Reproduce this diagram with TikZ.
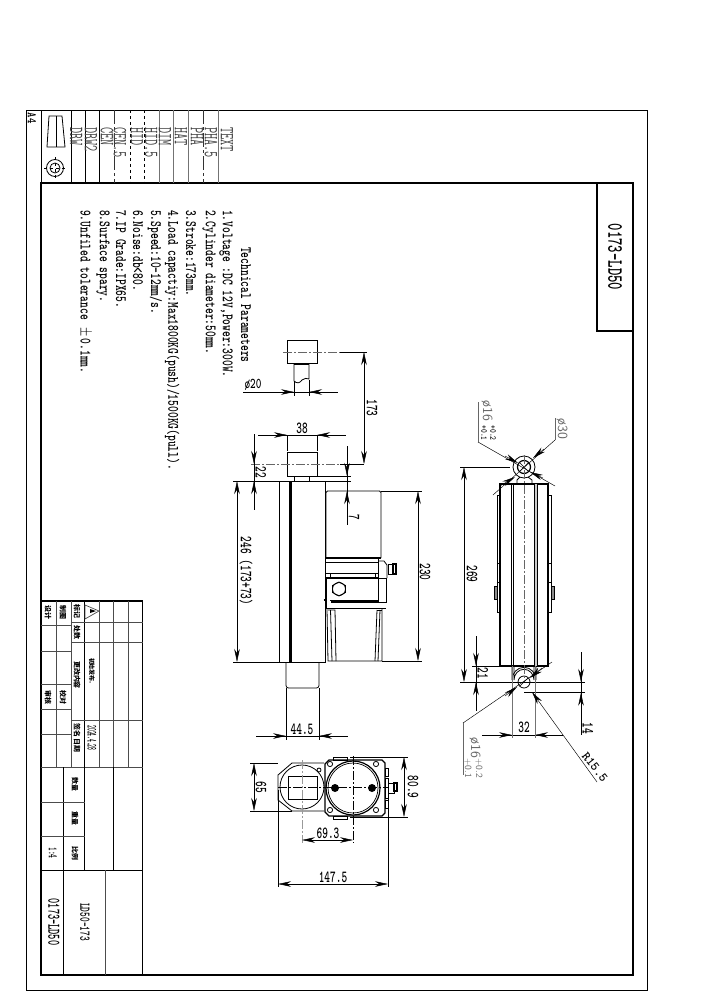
\documentclass[tikz,border=0pt]{standalone}
\usepackage{fontspec}
\usetikzlibrary{arrows.meta}
\newfontfamily\cjk{Noto Sans CJK SC}

\tikzset{
    frameline/.style={black,line width=1.3bp},
    stripline/.style={black!55,line width=0.9bp},
    gridline/.style={black!70,line width=0.7bp},
    partline/.style={black,line width=0.8bp},
    heavyline/.style={black,line width=1.2bp},
    thinline/.style={black,line width=0.45bp},
    centerline/.style={black!60,line width=0.6bp,dash pattern=on 9bp off 2bp on 2bp off 2bp},
    dimline/.style={black,line width=0.45bp,>={Stealth[length=13bp,width=5.5bp]}},
    greyleader/.style={black!60,line width=0.5bp},
    notetext/.style={font=\fontsize{16}{16}\ttfamily\bfseries,rotate=-90,xscale=.69,anchor=west,inner sep=0pt},
    striptext/.style={font=\fontsize{20}{20}\ttfamily,rotate=-90,xscale=.6,anchor=west,inner sep=0pt,black!75},
    dimtext/.style={font=\fontsize{17}{17}\ttfamily\bfseries,xscale=.64,inner sep=0pt},
    dimtextv/.style={font=\fontsize{17}{17}\ttfamily\bfseries,rotate=-90,xscale=.64,inner sep=0pt},
    greytext/.style={font=\fontsize{14}{14}\sffamily,rotate=-90,inner sep=0pt,black!60},
    smallgrey/.style={font=\fontsize{9.5}{9.5}\sffamily,rotate=-90,inner sep=0pt,black!60},
    cjktext/.style={font=\fontsize{7}{7}\cjk\bfseries,rotate=-90,inner sep=0pt},
}

\begin{document}
\begin{tikzpicture}[x=1bp,y=-1bp]
    \useasboundingbox (0,0) rectangle (706,1000);

    % sheet frames
    \draw[thinline,line width=0.8bp] (26,110) rectangle (647,990);
    \draw[frameline] (41,183) rectangle (633,975);
    \draw[frameline] (597,183) rectangle (633,331);
    \draw[thinline,line width=0.8bp] (41,110) -- (41,183);
    \node[font=\fontsize{22}{22}\ttfamily\bfseries,rotate=-90,xscale=.64,inner sep=0pt] (title) at (615,257) {0173-LD50};

    % line type strip
    \foreach \x in {71,85,99} {\draw[thinline,line width=0.8bp] (\x,110) -- (\x,183);}
    \foreach \x in {159,173,188,218} {\draw[stripline] (\x,110) -- (\x,183);}
    \foreach \x in {130,144} {\draw[black,line width=0.8bp,dashed] (\x,110) -- (\x,183);}
    \foreach \x in {114,203} {\draw[black!80,line width=0.8bp,dash pattern=on 14bp off 3bp on 3bp off 3bp] (\x,110) -- (\x,183);}
    \foreach \x/\t in {227/TEXT,211/PHA.5,197/PHA,181/HAT,165/DIM,151/HID.5,137/HID,120/CEN.5,107/CEN,91/DRW2,76/DRW} {
        \node[striptext] at (\x,127) {\t};
    }
    \node[font=\fontsize{13}{13}\ttfamily\bfseries,rotate=-90,xscale=.8,inner sep=0pt] (sheet) at (32,118) {A4};
    \draw[thinline,line width=0.8bp] (49,116) -- (62,116) -- (65,147) -- (47,147) -- cycle;
    \draw[thinline] (56,116) -- (56,147);
    \draw[thinline,line width=0.8bp] (55,168) circle (8.5) (55,168) circle (5);
    \draw[thinline,dashed] (44,168) -- (66,168) (55,157) -- (55,179);

    % technical notes
    \node[notetext] (notehead) at (246,247) {Technical Parameters};
    \node[notetext] (note1) at (226,210) {1.Voltage :DC 12V,Power:300W.};
    \node[notetext] (note2) at (209,210) {2.Cylinder diameter:50mm.};
    \node[notetext] (note3) at (191,210) {3.Stroke:173mm.};
    \node[notetext] (note4) at (172,210) {4.Load capactiy:Max1800KG(push)/1500KG(pull).};
    \node[notetext] (note5) at (155,210) {5.Speed:10-12mm/s.};
    \node[notetext] (note6) at (138,210) {6.Noise:db<80.};
    \node[notetext] (note7) at (121,210) {7.IP Grade:IPX65.};
    \node[notetext] (note8) at (103,210) {8.Surface spary.};
    \node[notetext] (note9) at (85,210) {9.Unfiled tolerance $\,\pm\,$0.1mm.};

    % title block
    \draw[frameline] (41,601) -- (142.5,601) -- (142.5,975);
    \draw[gridline] (41,767) -- (142.5,767);
    \draw[thinline,line width=0.8bp] (41,870) -- (142.5,870);
    \foreach \x in {99,113.5,128} {\draw[gridline] (\x,601) -- (\x,767);}
    \draw[thinline,line width=0.8bp] (84.5,601) -- (84.5,870);
    \draw[thinline,line width=0.8bp] (113.5,767) -- (113.5,870);
    \draw[gridline] (71,601) -- (71,767);
    \draw[gridline] (56,601) -- (56,767);
    \draw[thinline,line width=0.8bp] (63.5,767) -- (63.5,975);
    \draw[gridline] (105,870) -- (105,975);
    \foreach \y in {622,642,720} {\draw[gridline] (71,\y) -- (142.5,\y);}
    \foreach \y in {625,651,684,709,734} {\draw[gridline] (41,\y) -- (71,\y);}
    \foreach \y in {802,836} {\draw[gridline] (41,\y) -- (84.5,\y);}
    \foreach \x/\y/\t in {77/611/标记,77/632/处数,77/675/更改内容,77/738/签名 日期,48/612/设计,63/612/制图,48/697/审核,63/697/校对,75/784/数量,75/818/重量,75/853/比例} {
        \node[cjktext] at (\x,\y) {\t};
    }
    \node[cjktext,font=\fontsize{6}{6}\cjk\bfseries] (change) at (92,671) {初始发布.};
    \node[font=\fontsize{14}{14}\ttfamily\bfseries,rotate=-90,xscale=.38,inner sep=0pt] (date) at (92,738) {2024.4.28};
    \node[font=\fontsize{13}{13}\ttfamily\bfseries,rotate=-90,xscale=.55,inner sep=0pt] (scale) at (53,853) {1:4};
    \draw[gridline] (85,605) -- (99,611) -- (85,619) -- cycle;
    \fill (90,609) -- (96,611) -- (90,613) -- cycle;
    \node[font=\fontsize{18}{18}\ttfamily\bfseries,rotate=-90,xscale=.55,inner sep=0pt] (drawno) at (54,922) {0173-LD50};
    \node[font=\fontsize{15}{15}\ttfamily\bfseries,rotate=-90,xscale=.6,inner sep=0pt] (model) at (85,922) {LD50-173};

    % side view, rod extended
    \draw[partline] (287,340) rectangle (317,363);
    \draw[partline] (294,363) -- (294,381) .. controls (297,384) and (300,383) .. (302,380) .. controls (304,378) and (307,378) .. (309,379) -- (309,363);
    \draw[heavyline] (294,364) -- (309,364);
    \draw[centerline] (283,352) -- (340,352);
    \draw[thinline] (340,352) -- (367,352);

    % side view, rod retracted
    \draw[partline] (287,452) rectangle (317,476);
    \draw[partline] (294,476) rectangle (309,481);
    \draw[partline] (279,481) rectangle (325,662);
    \draw[heavyline] (291,481) -- (291,662);
    \draw[thinline] (289.5,481) -- (289.5,662);
    \draw[partline,rounded corners=2.5bp] (286,662) -- (286,688) -- (319,688) -- (319,662);
    \draw[centerline] (251,464) -- (340,464);
    \draw[thinline] (340,464) -- (364,464);

    % side view, motor
    \draw[partline,rounded corners=1.5bp] (326,558) -- (326,491) -- (381,491) -- (381,558);
    \draw[heavyline] (326,558) -- (381,558);
    \draw[partline] (326,562) -- (378,562);
    \draw[partline] (326,573) -- (378,573);
    \draw[heavyline] (326,578) -- (378,578);
    \draw[partline] (330,573) -- (330,578) (375,573) -- (375,578);
    \draw[partline] (326,578) -- (326,608) -- (386,608);
    \draw[partline] (330,600) -- (378,600);
    \draw[heavyline] (331,602) -- (378,602);
    \draw[partline] (378,558) -- (378,602) (378,578) -- (386,578) (386,578) -- (386,602) -- (378,602);
    \draw[partline] (378,561) -- (384,561) -- (387,565) -- (387,578);
    \draw[partline] (388,564) rectangle (393,574);
    \draw[heavyline] (393,564) rectangle (396,574);
    \draw[partline] (339,582) -- (345.5,585.5) -- (345.5,592.5) -- (339,596) -- (332.5,592.5) -- (332.5,585.5) -- cycle;
    \draw[partline] (339,589) circle (6.5);
    \draw[heavyline] (323.5,600) -- (325.5,600) -- (325.5,604);
    \draw[partline] (327,609) -- (328,661) -- (382,661) -- (382,609);
    \draw[partline] (328,610) -- (335,610) -- (336,661);
    \draw[partline] (330.5,610) -- (332,661);
    \draw[partline] (377,610) -- (375,661);
    \draw[partline] (380,610) -- (378,661);
    \draw[partline] (377,610) -- (382,610);

    % side view, dimensions
    \draw[dimline] (243,392) -- (338,392);
    \draw[dimline,->] (279,392) -- (294,392);
    \draw[dimline,->] (324,392) -- (309,392);
    \draw[thinline] (294,381) -- (294,396) (309,380) -- (309,396);
    \node[font=\fontsize{15}{15}\ttfamily\bfseries,xscale=.72,inner sep=0pt] (dia20) at (253,385) {ø20};

    \draw[dimline,<->] (364,352) -- (364,464);
    \node[dimtextv] (stroke) at (372,408) {173};

    \draw[dimline] (258,435) -- (346,435);
    \draw[dimline,->] (272,435) -- (287,435);
    \draw[dimline,->] (332,435) -- (317,435);
    \draw[stripline,thinline] (287,435) -- (287,451) (317,435) -- (317,451);
    \node[dimtext] (width38) at (302,428) {38};

    \draw[dimline] (254,434) -- (254,510);
    \draw[dimline,->] (254,448) -- (254,464);
    \draw[dimline,->] (254,497) -- (254,481);
    \draw[thinline] (233,481) -- (279,481) (325,481) -- (351,481);
    \node[dimtextv] (clear22) at (261,472) {22};

    \draw[dimline] (347,446) -- (347,525);
    \draw[dimline,->] (347,460) -- (347,476);
    \draw[dimline,->] (347,507) -- (347,491);
    \draw[thinline] (317,476) -- (351,476);
    \node[dimtextv] (gap7) at (354,517) {7};

    \draw[dimline,<->] (237,481) -- (237,662);
    \draw[thinline] (233,662) -- (279,662);
    \node[dimtextv] (len246) at (246,571) {246 (173+73)};

    \draw[dimline,<->] (418,491) -- (418,661);
    \draw[thinline] (381,491) -- (422,491) (382,661) -- (422,661);
    \node[dimtextv] (len230) at (425,572) {230};

    \draw[dimline] (256,736) -- (348,736);
    \draw[dimline,->] (271,736) -- (286,736);
    \draw[dimline,->] (334,736) -- (319,736);
    \draw[thinline] (286,688) -- (286,740) (319,688) -- (319,740);
    \node[dimtext] (rod445) at (302,729) {44.5};

    % end view
    \draw[partline] (324,763) -- (292,763) -- (278,775) -- (278,800) -- (292,811) -- (324,811);
    \draw[partline] (302,787) circle (22);
    \draw[partline] (288,776) rectangle (317,799);
    \draw[partline] (319,770) circle (2);
    \draw[heavyline] (329,760) -- (382,760) -- (385,763) -- (385,813) -- (382,816) -- (329,816) -- (325,812) -- (325,764) -- cycle;
    \draw[heavyline] (353,788) circle (27);
    \draw[thinline,line width=0.7bp] (353,788) circle (25);
    \foreach \x/\y in {330/764,376/764,330/810,376/810} {
        \draw[partline] (\x,\y) circle (2.6);
    }
    \foreach \x in {335,372} {
        \fill (\x,788) circle (4);
    }
    \draw[partline] (333,757) rectangle (347,760) (333,816) rectangle (347,819);
    \draw[partline] (385,768) rectangle (388,776) (385,800) rectangle (388,808);
    \draw[partline] (385,778) rectangle (388,798);
    \draw[partline] (388,783) rectangle (394,793);
    \draw[heavyline] (394,783) rectangle (397,791);
    \draw[centerline,black!40,line width=0.9bp] (302,760) -- (302,843);
    \draw[centerline,black] (353,756) -- (353,843);
    \draw[centerline,black] (278,787) -- (388,787);

    % end view, dimensions
    \draw[thinline] (250,763) -- (278,763) (250,811) -- (292,811);
    \draw[dimline,<->] (254,763) -- (254,811);
    \node[dimtextv] (dim65) at (261,787) {65};

    \draw[thinline] (350,757) -- (408,757) (350,817) -- (408,817);
    \draw[dimline,<->] (404,757) -- (404,817);
    \node[dimtextv] (dim809) at (413,787) {80.9};

    \draw[dimline,<->] (302,840) -- (353,840);
    \node[dimtext] (dim693) at (328,833) {69.3};

    \draw[thinline] (278,790) -- (278,887) (388,795) -- (388,887);
    \draw[dimline,<->] (278,884) -- (388,884);
    \node[dimtext] (dim1475) at (333,877) {147.5};

    % front view
    \draw[partline] (524,467) circle (11);
    \draw[heavyline] (524,467) circle (6.5);
    \draw[thinline] (520,463) -- (528,471) (528,463) -- (520,471);
    \draw[partline] (517,483) -- (517,480) -- (520,477) (528,477) -- (532,480) -- (532,483);
    \draw[heavyline,line width=1.5bp] (500,484) rectangle (548,666);
    \fill[black!20] (534,484) rectangle (537,666);
    \draw[partline] (511,484) -- (511,666) (513,484) -- (513,666);
    \draw[partline] (534,484) -- (534,666) (537,484) -- (537,666);
    \draw[partline] (497,495) -- (497,612) -- (500,612);
    \draw[partline] (497,495) -- (500,495);
    \draw[partline] (551,495) -- (551,612) -- (548,612);
    \draw[partline] (551,495) -- (548,495);
    \foreach \y in {563,582} {
        \draw[partline] (497,\y) -- (500,\y) (548,\y) -- (551,\y);
    }
    \draw[partline,fill=black!45] (494,586) rectangle (497,599);
    \draw[partline,fill=black!45] (551,586) rectangle (554,599);
    \draw[partline] (512,666) -- (512,680) arc[start angle=180,end angle=0,x radius=12,y radius=-12.7] -- (536,666);
    \draw[partline] (514,666) -- (514,680) arc[start angle=180,end angle=0,x radius=10,y radius=-10.7] -- (534,666);
    \draw[partline] (524,682) circle (6);
    \draw[thinline] (520,686) -- (528,678);
    \draw[centerline] (524,455) -- (524,678);

    % front view, dimensions
    \draw[thinline] (460,467) -- (510,467) (460,682) -- (585,682);
    \draw[dimline,<->] (464,467) -- (464,682);
    \node[dimtextv] (len269) at (472,574) {269};

    \draw[dimline] (476,636) -- (476,711);
    \draw[dimline,->] (476,652) -- (476,666);
    \draw[dimline,->] (476,697) -- (476,682);
    \draw[thinline] (472,666) -- (500,666);
    \node[dimtextv] (dim21) at (483,673) {21};

    \draw[dimline] (581,652) -- (581,735);
    \draw[dimline,->] (581,668) -- (581,682);
    \draw[dimline,->] (581,707) -- (581,692.7);
    \draw[thinline] (524,692.7) -- (585,692.7);
    \node[dimtextv] (dim14) at (588,728) {14};

    \draw[dimline] (482,735) -- (563,735);
    \draw[dimline,->] (497,735) -- (512,735);
    \draw[dimline,->] (550,735) -- (535,735);
    \draw[stripline] (512,666) -- (512,738) (535,666) -- (535,738);
    \node[dimtext] (dim32) at (524,727) {32};

    \draw[dimline,->] (597,782) -- (532,692);
    \node[font=\fontsize{13}{13}\ttfamily\bfseries,rotate=-52,inner sep=0pt] (dimr) at (595,767) {R15.5};

    % tolerance leaders
    \coordinate (lowhole) at (463,723);
    \draw[thinline] (552,662) -- (lowhole);
    \draw[greyleader] (lowhole) -- (463,775);
    \draw[dimline,->] (505,696) -- (517,687);
    \draw[dimline,->] (542,668) -- (530,678);
    \node[greytext] (lowdia) at (475,748) {ø16};
    \node[smallgrey] (lowup) at (479,768) {+0.2};
    \node[smallgrey] (lowdn) at (468,768) {+0.1};

    \coordinate (tophole) at (478,442);
    \draw[thinline] (555,486) -- (tophole);
    \draw[greyleader] (tophole) -- (478,402);
    \draw[dimline,->] (505,456) -- (518,463);
    \draw[dimline,->] (543,478) -- (530,472);
    \node[greytext] (topdia) at (487,411) {ø16};
    \node[font=\fontsize{9}{9}\ttfamily\bfseries,rotate=-90,xscale=.8,inner sep=0pt] (topup) at (493,433) {+0.2};
    \node[font=\fontsize{9}{9}\ttfamily\bfseries,rotate=-90,xscale=.8,inner sep=0pt] (topdn) at (484,433) {+0.1};

    \coordinate (toplug) at (555,440);
    \draw[greyleader] (555,418) -- (toplug);
    \draw[thinline] (toplug) -- (493,495);
    \draw[dimline,->] (544,449) -- (533,458);
    \draw[dimline,->] (500,486) -- (515,477);
    \node[greytext] (outerdia) at (562,429) {ø30};
\end{tikzpicture}
\end{document}
